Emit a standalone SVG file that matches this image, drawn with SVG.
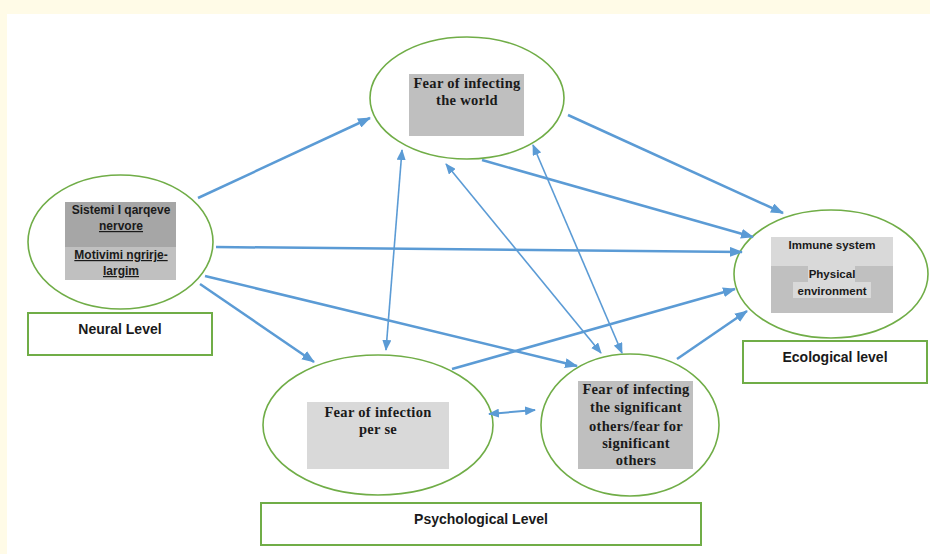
<svg xmlns="http://www.w3.org/2000/svg" width="930" height="554" viewBox="0 0 930 554">
<defs>
<style>
.ell{fill:#fff;stroke:#70AD47;stroke-width:1.6}
.box{fill:#fff;stroke:#70AD47;stroke-width:2}
.ser{font-family:"Liberation Serif","Times New Roman",serif;font-weight:bold;font-size:14.5px;letter-spacing:0.3px;fill:#1a1a1a;text-anchor:middle}
.san{font-family:"Liberation Sans",Arial,sans-serif;font-weight:bold;font-size:12px;fill:#1a1a1a;text-anchor:middle}
.lvl{font-family:"Liberation Sans",Arial,sans-serif;font-weight:bold;font-size:14px;fill:#1a1a1a;text-anchor:middle}
.u{text-decoration:underline}
.thick{stroke:#5B9BD5;stroke-width:2.5;fill:none;marker-end:url(#ah)}
.thin{stroke:#5B9BD5;stroke-width:1.6;fill:none;marker-start:url(#ah2);marker-end:url(#ah2)}
</style>
<marker id="ah" markerUnits="userSpaceOnUse" markerWidth="13" markerHeight="10" refX="12" refY="5" orient="auto"><path d="M0,0 L13,5 L0,10 z" fill="#5B9BD5"/></marker>
<marker id="ah2" markerUnits="userSpaceOnUse" markerWidth="11" markerHeight="9" refX="10" refY="4.5" orient="auto-start-reverse"><path d="M0,0 L11,4.5 L0,9 z" fill="#5B9BD5"/></marker>
</defs>
<rect x="0" y="0" width="930" height="554" fill="#FFFBE7"/>
<rect x="7" y="14" width="923" height="540" fill="#fff"/>

<g id="node-world">
<ellipse class="ell" cx="467" cy="98" rx="97" ry="61"/>
<rect x="409" y="74" width="115" height="62" fill="#BFBFBF"/>
<text class="ser" x="467" y="88">Fear of infecting</text>
<text class="ser" x="467" y="105">the world</text>
</g>

<g id="node-neural">
<ellipse class="ell" cx="120.5" cy="242" rx="92.5" ry="67"/>
<rect x="65" y="202" width="111" height="45" fill="#A6A6A6"/>
<rect x="65" y="247" width="111" height="33" fill="#C0C0C0"/>
<text class="san" x="121" y="214">Sistemi I qarqeve</text>
<text class="san u" x="121" y="230">nervore</text>
<text class="san u" x="121" y="259">Motivimi ngrirje-</text>
<text class="san u" x="121" y="275">largim</text>
</g>

<g id="label-neural">
<rect class="box" x="28" y="313" width="184" height="42"/>
<text class="lvl" x="120" y="334">Neural Level</text>
</g>

<g id="node-ecological">
<ellipse class="ell" cx="831" cy="274" rx="97" ry="64"/>
<rect x="771" y="237" width="122" height="29" fill="#D9D9D9"/>
<rect x="771" y="266" width="122" height="47" fill="#C0C0C0"/>
<rect x="808" y="266" width="47" height="16" fill="#D9D9D9"/>
<rect x="793" y="282" width="78" height="16" fill="#D9D9D9"/>
<text class="san" x="832" y="249" style="font-size:11.5px">Immune system</text>
<text class="san" x="832" y="278" style="font-size:11.5px">Physical</text>
<text class="san" x="832" y="295" style="font-size:11.5px">environment</text>
</g>

<g id="label-ecological">
<rect class="box" x="743" y="341" width="184" height="42"/>
<text class="lvl" x="835" y="362">Ecological level</text>
</g>

<g id="node-self">
<ellipse class="ell" cx="378" cy="425" rx="115" ry="70"/>
<rect x="307" y="402" width="142" height="67" fill="#D9D9D9"/>
<text class="ser" x="378" y="417">Fear of infection</text>
<text class="ser" x="378" y="434">per se</text>
</g>

<g id="node-others">
<ellipse class="ell" cx="630" cy="425" rx="89" ry="71"/>
<rect x="578" y="381" width="115" height="88" fill="#BFBFBF"/>
<text class="ser" x="636" y="394">Fear of infecting</text>
<text class="ser" x="636" y="412">the significant</text>
<text class="ser" x="636" y="431">others/fear for</text>
<text class="ser" x="636" y="448">significant</text>
<text class="ser" x="636" y="465">others</text>
</g>

<g id="label-psychological">
<rect class="box" x="261" y="503" width="440" height="42"/>
<text class="lvl" x="481" y="524">Psychological Level</text>
</g>

<g id="connectors">
<line class="thick" x1="198" y1="198" x2="370" y2="118"/>
<line class="thick" x1="216" y1="247" x2="742" y2="252"/>
<line class="thick" x1="200" y1="284" x2="314" y2="362"/>
<line class="thick" x1="205" y1="276" x2="577" y2="366"/>
<line class="thick" x1="482" y1="160" x2="753" y2="237"/>
<line class="thick" x1="568" y1="115" x2="783" y2="213"/>
<line class="thick" x1="452" y1="369" x2="735" y2="289"/>
<line class="thick" x1="677" y1="359" x2="747" y2="311"/>
<line class="thin" x1="402" y1="150" x2="386" y2="350"/>
<line class="thin" x1="446" y1="164" x2="601" y2="353"/>
<line class="thin" x1="533" y1="145" x2="622" y2="353"/>
<line class="thin" x1="489" y1="414" x2="535" y2="410" style="stroke-width:2"/>
</g>
</svg>
